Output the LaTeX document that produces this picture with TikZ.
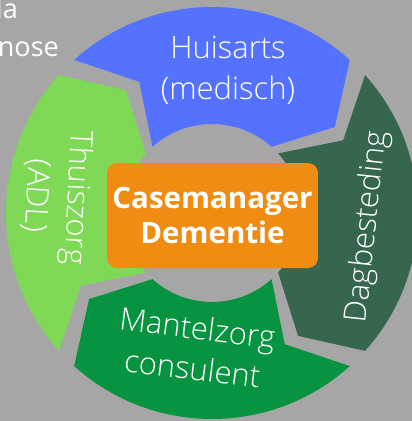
\documentclass[tikz,border=0pt]{standalone}
\usepackage{fontspec}
\setmainfont{Open Sans}
\IfFontExistsTF{Open Sans Light}{\newfontfamily\lightfont{Open Sans Light}}{\newfontfamily\lightfont{Open Sans}}
\usepackage{tikz}
\definecolor{bgGray}{HTML}{A6A6A6}
\definecolor{huisBlue}{HTML}{5572FF}
\definecolor{dagGreen}{HTML}{36674E}
\definecolor{mantelGreen}{HTML}{07933F}
\definecolor{thuisGreen}{HTML}{7FD957}
\definecolor{caseOrange}{HTML}{F18C13}
\tikzset{
  lbl/.style={text=white, inner sep=0pt, align=center, font=\lightfont\fontsize{31}{41}\selectfont},
  core/.style={fill=caseOrange, rounded corners=10pt, minimum width=211pt, minimum height=105pt,
    text=white, align=center, font=\bfseries\fontsize{29.5}{35}\selectfont},
  corner/.style={text=white, inner sep=0pt, font=\fontsize{27}{36}\selectfont}
}

\begin{document}
\begin{tikzpicture}[x=1pt,y=1pt]
  \fill[bgGray] (-212,-208) rectangle (200,213);
  \useasboundingbox (-212,-208) rectangle (200,213);
  \foreach \a/\col in {132/huisBlue, 42/dagGreen, -48/mantelGreen, -138/thuisGreen}
  {
  \pgfmathsetmacro{\b}{\a-84}
  \pgfmathsetmacro{\tip}{\b-13}
  \pgfmathsetmacro{\notch}{\a-13}
  \fill[\col] (\a:206) arc[start angle=\a, end angle=\b, radius=206] -- (\tip:150)
    -- (\b:89) arc[start angle=\b, end angle=\a, radius=89] -- (\notch:150) -- cycle;
  }
  \node[corner, anchor=base east] (topline) at (-194,194) {la};
  \node[corner, anchor=base east] (bottomline) at (-153,157) {nose};
  \node[lbl] (huisarts) at (16,143) {Huisarts\\(medisch)};
  \node[lbl, rotate=84] (dagbesteding) at (156,-14) {Dagbesteding};
  \node[lbl, rotate=-7] (mantelzorg) at (-17,-135) {Mantelzorg\\consulent};
  \node[lbl, rotate=-93] (thuiszorg) at (-155,16) {Thuiszorg\\(ADL)};
  \node[core] (casemanager) at (0.5,-2.5) {Casemanager\\Dementie};
\end{tikzpicture}
\end{document}
